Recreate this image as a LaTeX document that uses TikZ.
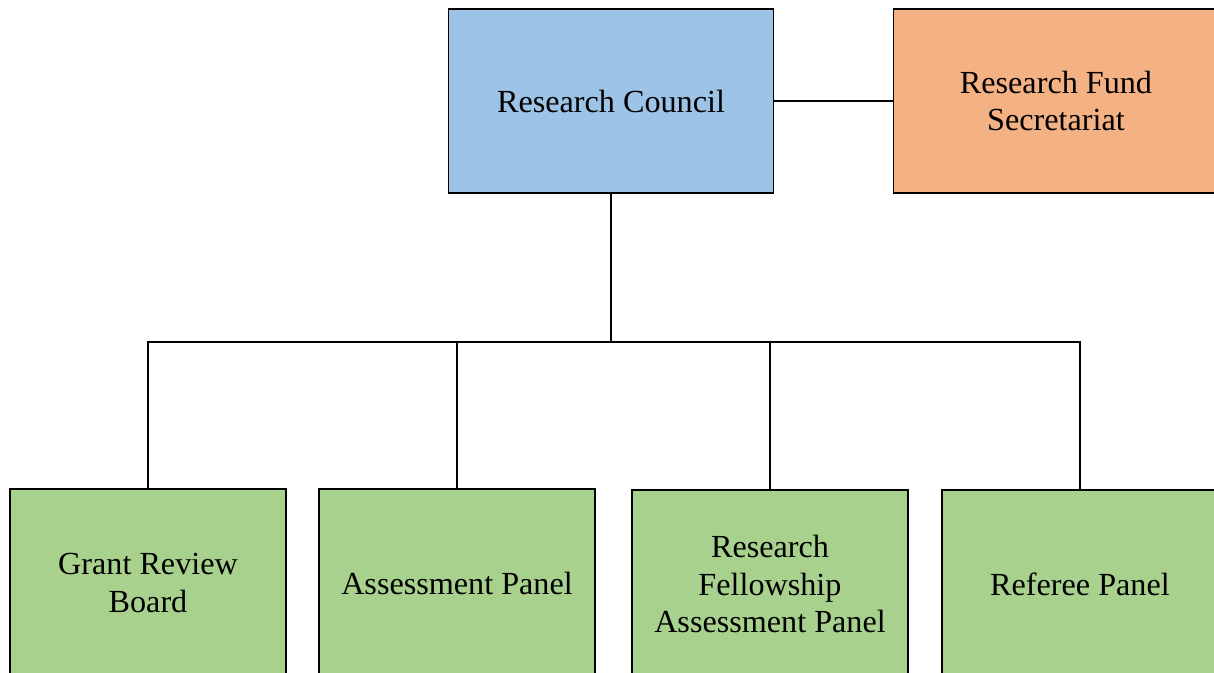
\documentclass[tikz,border=0pt]{standalone}
\usepackage{fontspec}
\setmainfont{Liberation Serif}
\definecolor{cblue}{HTML}{9DC3E6}
\definecolor{corange}{HTML}{F4B183}
\definecolor{cgreen}{HTML}{A9D18E}
\tikzset{
  box/.style={draw=black, line width=1.8bp, align=center, inner sep=0pt,
    font=\fontsize{32.3}{38}\selectfont},
  topbox/.style={box, minimum width=325bp, minimum height=184bp},
  lowbox/.style={box, fill=cgreen, minimum width=276bp, minimum height=188bp},
  link/.style={line width=1.8bp, black}
}
\begin{document}
\begin{tikzpicture}[x=1bp,y=-1bp]
\useasboundingbox (0,0) rectangle (1214,673);
\clip (0,0) rectangle (1214,673);
\node[topbox, fill=cblue] (council) at (611,101) {Research Council};
\node[topbox, fill=corange] (secr) at (1056,101) {Research Fund\\Secretariat};
\node[lowbox] (grant) at (148,583) {Grant Review\\Board};
\node[lowbox] (assess) at (457,583) {Assessment Panel};
\node[lowbox] (fellow) at (770,584) {Research\\Fellowship\\Assessment Panel};
\node[lowbox] (referee) at (1080,584) {Referee Panel};
\coordinate (bus) at (611,342);
\draw[link] (council.east) -- (secr.west);
\draw[link] (council.south) -- (bus);
\draw[link] (grant.north) |- (bus);
\draw[link] (referee.north) |- (bus);
\draw[link] (assess.north) -- (assess.north |- bus);
\draw[link] (fellow.north) -- (fellow.north |- bus);
\end{tikzpicture}
\end{document}
